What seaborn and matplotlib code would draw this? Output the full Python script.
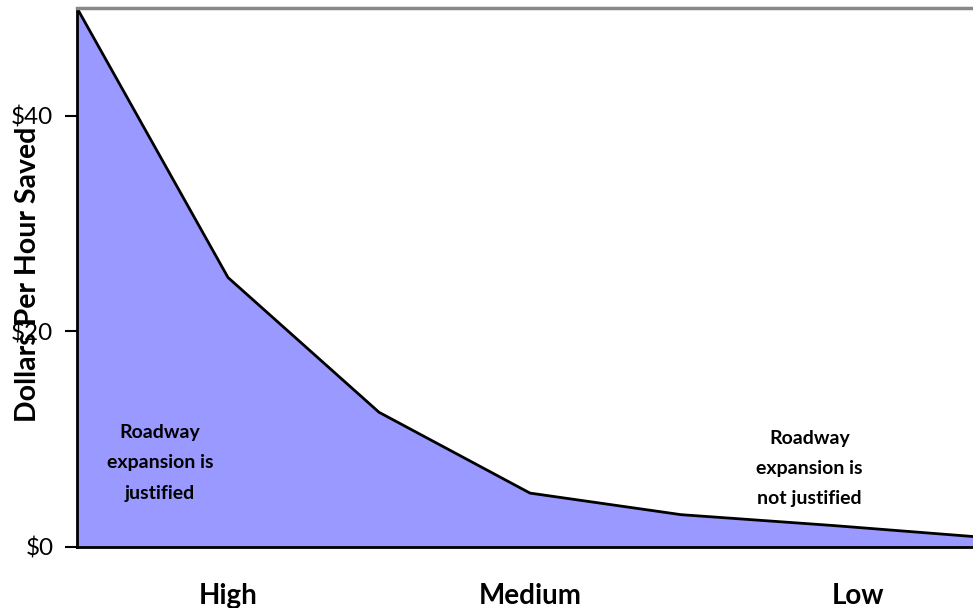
import numpy as np
import pandas as pd
import matplotlib
matplotlib.use("Agg")
import matplotlib.pyplot as plt
import seaborn as sns

# data
step = [0, 1, 2, 3, 4, 5, 6]
dollars = [50, 25, 12.5, 5, 3, 2, 0.9]
levels = ["High", "Medium", "Low"]
level_pos = [1.0, 3.0, 5.17]
yticks = [0, 20, 40]
ytick_labels = ["$0", "$20", "$40"]

df = pd.DataFrame({"step": step, "dollars": dollars})

sns.set_style("white")
plt.rcParams['font.family'] = ['Lato', 'DejaVu Sans']
plt.rcParams['text.color'] = 'black'
plt.rcParams['axes.labelcolor'] = 'black'
plt.rcParams['xtick.color'] = 'black'
plt.rcParams['ytick.color'] = 'black'

fig = plt.figure(figsize=(9.73, 6.08), dpi=100)
ax = fig.add_axes([77/973, 61/608, 896/973, 539/608])

ax.fill_between(df.step, df.dollars, 0, color="#9999FF", linewidth=0)
sns.lineplot(x="step", y="dollars", data=df, ax=ax, color="black", linewidth=2)

ax.set_xlim(0, 896/151.0)
ax.set_ylim(0, 50)

ax.set_yticks(yticks)
ax.set_yticklabels(ytick_labels, fontsize=17.5)
ax.tick_params(axis="y", direction="out", length=9, width=1.5, color="black", left=True, pad=8)
ax.set_xticks(level_pos)
ax.set_xticklabels(levels, fontsize=20, fontweight="bold")
ax.tick_params(axis="x", length=0, pad=26)

ax.set_xlabel("")
ax.set_ylabel("Dollars Per Hour Saved", fontsize=20.5, fontweight="bold")
ax.yaxis.set_label_coords(-0.040, 0.505)

for side in ["left", "bottom"]:
    ax.spines[side].set_color("black")
    ax.spines[side].set_linewidth(2)
ax.spines["top"].set_color("#888888")
ax.spines["top"].set_linewidth(2.5)
ax.spines["right"].set_visible(False)

ax.text(0.55, 7.8, "Roadway\nexpansion is\njustified", ha="center", va="center",
        fontsize=14, fontweight="bold", linespacing=1.95)
ax.text(4.85, 7.3, "Roadway\nexpansion is\nnot justified", ha="center", va="center",
        fontsize=14, fontweight="bold", linespacing=1.95)

fig.savefig("out.png", dpi=100)
